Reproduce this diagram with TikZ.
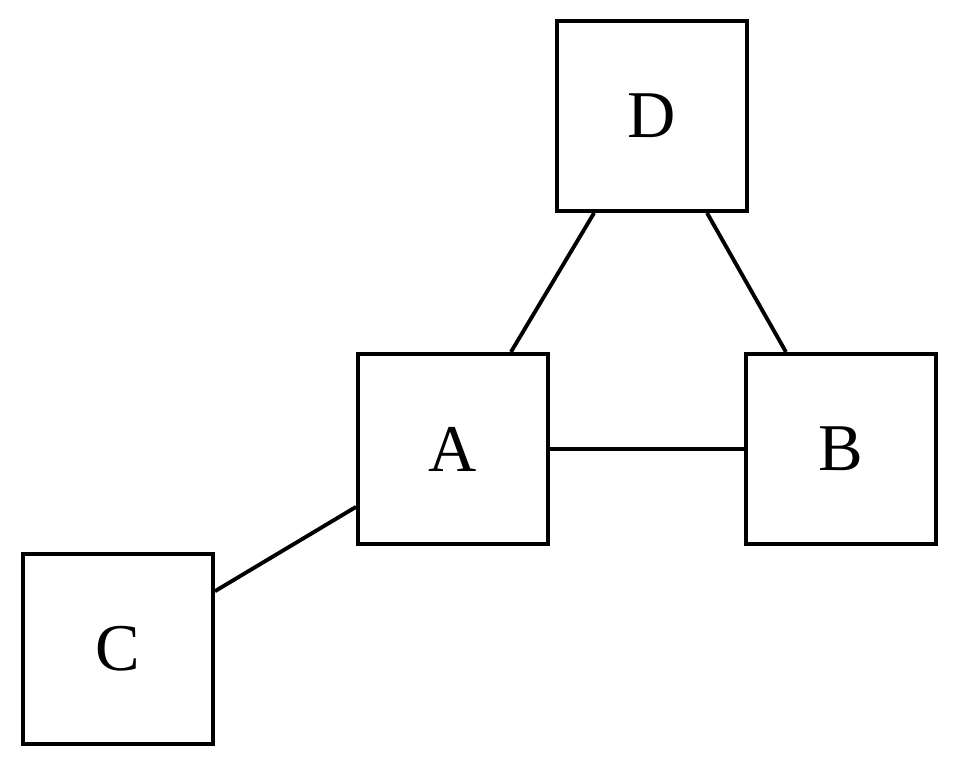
\documentclass[tikz,border=0pt]{standalone}
\usepackage{fontspec}
\setmainfont{Liberation Serif}
\begin{document}
\begin{tikzpicture}[x=0.01cm,y=-0.01cm,
  box/.style={draw,line width=1.1pt,minimum size=1.9cm,inner sep=0pt,font=\fontsize{19}{23}\selectfont},
  link/.style={line width=1.1pt}]
\useasboundingbox (0,0) rectangle (960,768);
\node[box] (D) at (652,116) {D};
\node[box] (A) at (453,449) {A};
\node[box] (B) at (841,449) {B};
\node[box] (C) at (118,649) {C};
\draw[link] (D) -- (A);
\draw[link] (D) -- (B);
\draw[link] (A) -- (B);
\draw[link] (A) -- (C);
\end{tikzpicture}
\end{document}
